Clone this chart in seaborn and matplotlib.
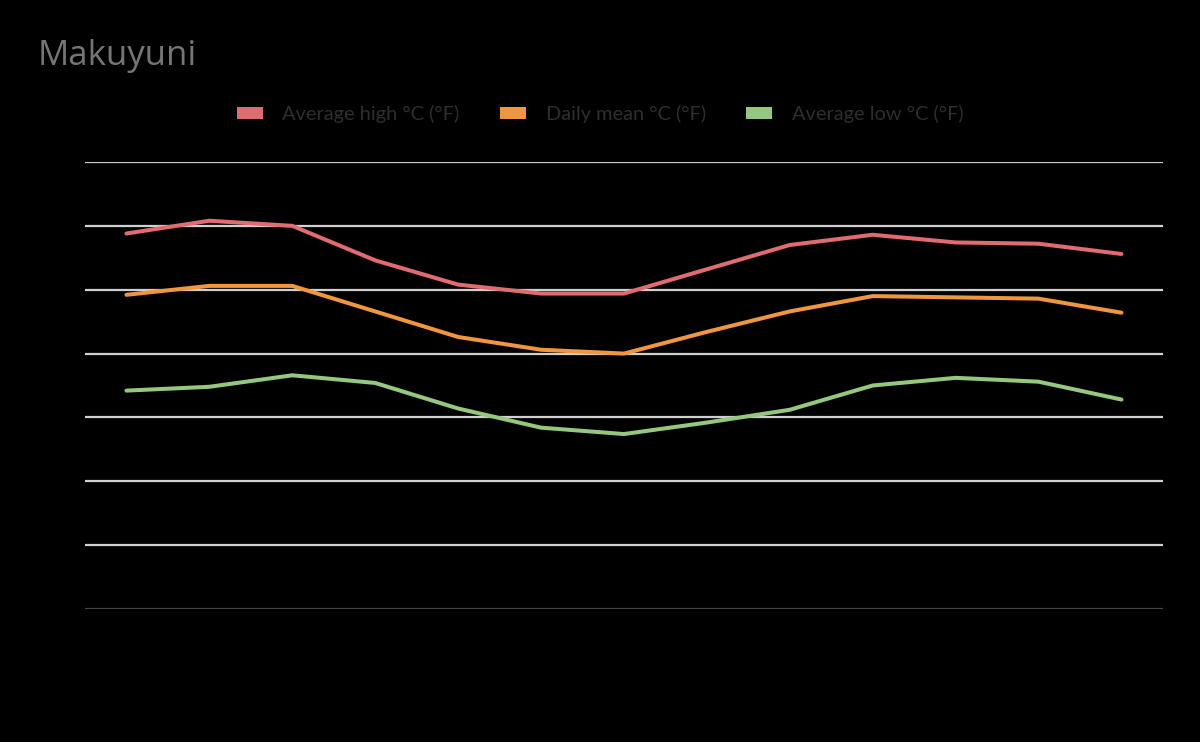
import numpy as np
import pandas as pd
import matplotlib.pyplot as plt
import seaborn as sns
from matplotlib.patches import Patch

# monthly climate values for Makuyuni (deg C), last entry is the yearly value
months = ['Jan', 'Feb', 'Mar', 'Apr', 'May', 'Jun', 'Jul', 'Aug', 'Sep', 'Oct', 'Nov', 'Dec', 'Year']
avg_high = [29.4, 30.4, 30.0, 27.3, 25.4, 24.7, 24.7, 26.6, 28.5, 29.3, 28.7, 28.6, 27.8]
daily_mean = [24.6, 25.3, 25.3, 23.3, 21.3, 20.3, 20.0, 21.7, 23.3, 24.5, 24.4, 24.3, 23.2]
avg_low = [17.1, 17.4, 18.3, 17.7, 15.7, 14.2, 13.7, 14.6, 15.6, 17.5, 18.1, 17.8, 16.4]
series_names = ['Average high °C (°F)', 'Daily mean °C (°F)', 'Average low °C (°F)']
y_ticks = [0, 5, 10, 15, 20, 25, 30, 35]

colors = ['#e06b70', '#f0963f', '#96c77f']

df = pd.DataFrame({
    'month': months * 3,
    'value': avg_high + daily_mean + avg_low,
    'series': [series_names[0]] * 13 + [series_names[1]] * 13 + [series_names[2]] * 13,
})

sns.set_style('dark')
plt.rcParams['font.family'] = ['Open Sans', 'DejaVu Sans']

fig = plt.figure(figsize=(12, 7.42), dpi=100, facecolor='black')
ax = fig.add_axes([0.0708, 0.1792, 0.8983, 0.6025])
ax.set_facecolor('black')

# gridlines
for t in y_ticks:
    ax.axhline(t, color='#444444' if t == 0 else '#d0d0d0', lw=1.6, zorder=1)

sns.lineplot(data=df, x='month', y='value', hue='series', palette=colors,
             linewidth=2.9, ax=ax, legend=False, sort=False, zorder=3)

ax.set_xlim(-0.5, 12.5)
ax.set_ylim(0, 35)
ax.set_yticks(y_ticks)
ax.set_xlabel('')
ax.set_ylabel('')
ax.tick_params(colors='black', labelcolor='black', length=0)
ax.grid(False)
for s in ax.spines.values():
    s.set_visible(False)

fig.text(0.031, 0.925, 'Makuyuni', color='#757575', fontsize=25, va='center', ha='left')

handles = [Patch(facecolor=c, edgecolor='none') for c in colors]
leg = fig.legend(handles, series_names, loc='center', bbox_to_anchor=(0.5, 0.846), ncol=3,
                 frameon=False, handlelength=1.3, handleheight=0.5,
                 columnspacing=2.0, handletextpad=1.0, labelcolor='#2e2e2e',
                 prop={'family': ['Lato', 'DejaVu Sans'], 'size': 14.4})

fig.savefig('out.png', dpi=100, facecolor='black')
